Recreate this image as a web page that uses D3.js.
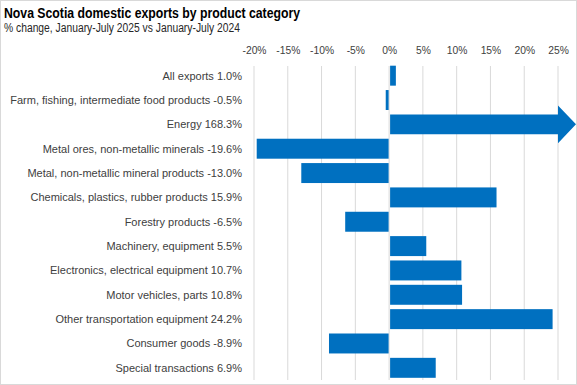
<!DOCTYPE html>
<html><head><meta charset="utf-8">
<script src="https://cdn.jsdelivr.net/npm/d3@7"></script>
<style>
body{margin:0;background:#fff;}
svg{display:block;font-family:"Liberation Sans",Arial,sans-serif;}
</style></head><body>
<svg id="c" width="577" height="385"></svg>
<script>
const categories = ["All exports","Farm, fishing, intermediate food products","Energy","Metal ores, non-metallic minerals","Metal, non-metallic mineral products","Chemicals, plastics, rubber products","Forestry products","Machinery, equipment","Electronics, electrical equipment","Motor vehicles, parts","Other transportation equipment","Consumer goods","Special transactions"];
const values = [1.0,-0.5,168.3,-19.6,-13.0,15.9,-6.5,5.5,10.7,10.8,24.2,-8.9,6.9];
const tickValues = [-20,-15,-10,-5,0,5,10,15,20,25];
const title = "Nova Scotia domestic exports by product category";
const subtitle = "% change, January-July 2025 vs January-July 2024";

const W=577,H=385;
const svg=d3.select("#c");
svg.append("rect").attr("x",0.5).attr("y",0.5).attr("width",W-1).attr("height",H-1).attr("fill","#fff").attr("stroke","#d9d9d9");

const x=d3.scaleLinear().domain([-20,25]).range([254,558]);
const y=d3.scaleBand().domain(categories).range([63.5,380]).paddingInner(0.18).paddingOuter(0.09);

svg.append("text").attr("x",4).attr("y",18).attr("font-size",14.5).attr("font-weight","bold").attr("fill","#000")
 .attr("textLength",296).attr("lengthAdjust","spacingAndGlyphs").text(title);
svg.append("text").attr("x",4).attr("y",32).attr("font-size",12).attr("fill","#262626")
 .attr("textLength",236).attr("lengthAdjust","spacingAndGlyphs").text(subtitle);

// gridlines
svg.append("g").selectAll("line").data(tickValues).join("line")
 .attr("x1",d=>x(d)).attr("x2",d=>x(d)).attr("y1",66).attr("y2",380)
 .attr("stroke","#d9d9d9").attr("stroke-width",1);

// top axis
const ax=svg.append("g").attr("transform","translate(0,54)")
 .call(d3.axisTop(x).tickValues(tickValues).tickFormat(d=>d+"%").tickSize(0).tickPadding(0));
ax.select(".domain").remove();
ax.selectAll("text").attr("font-size",10.3).attr("fill","#404040").attr("font-family","Liberation Sans, Arial, sans-serif");

// labels
svg.append("g").selectAll("text").data(categories).join("text")
 .attr("x",242).attr("y",d=>y(d)+y.bandwidth()/2).attr("dy","0.35em")
 .attr("text-anchor","end").attr("font-size",11).attr("fill","#404040")
 .text((d,i)=>d+" "+values[i].toFixed(1)+"%");

const color="#0070c0";
const maxV=x.domain()[1];
const data=categories.map((c,i)=>({c,v:values[i]}));
svg.append("g").selectAll("rect").data(data.filter(d=>d.v<=maxV)).join("rect")
 .attr("x",d=>d.v<0?x(d.v):x(0)+1).attr("width",d=>Math.abs(x(d.v)-x(0))-(d.v<0?0.5:1))
 .attr("y",d=>y(d.c)).attr("height",y.bandwidth()).attr("fill",color);

// overflow arrow
data.filter(d=>d.v>maxV).forEach(d=>{
  const y0=y(d.c), h=y.bandwidth(), x0=x(0)+1, xb=x(maxV), xt=W-1;
  const p=d3.path();
  p.moveTo(x0,y0);p.lineTo(xb,y0);p.lineTo(xb,y0-h*0.45);p.lineTo(xt,y0+h/2);
  p.lineTo(xb,y0+h*1.45);p.lineTo(xb,y0+h);p.lineTo(x0,y0+h);p.closePath();
  svg.append("path").attr("d",p.toString()).attr("fill",color);
});
</script></body></html>
